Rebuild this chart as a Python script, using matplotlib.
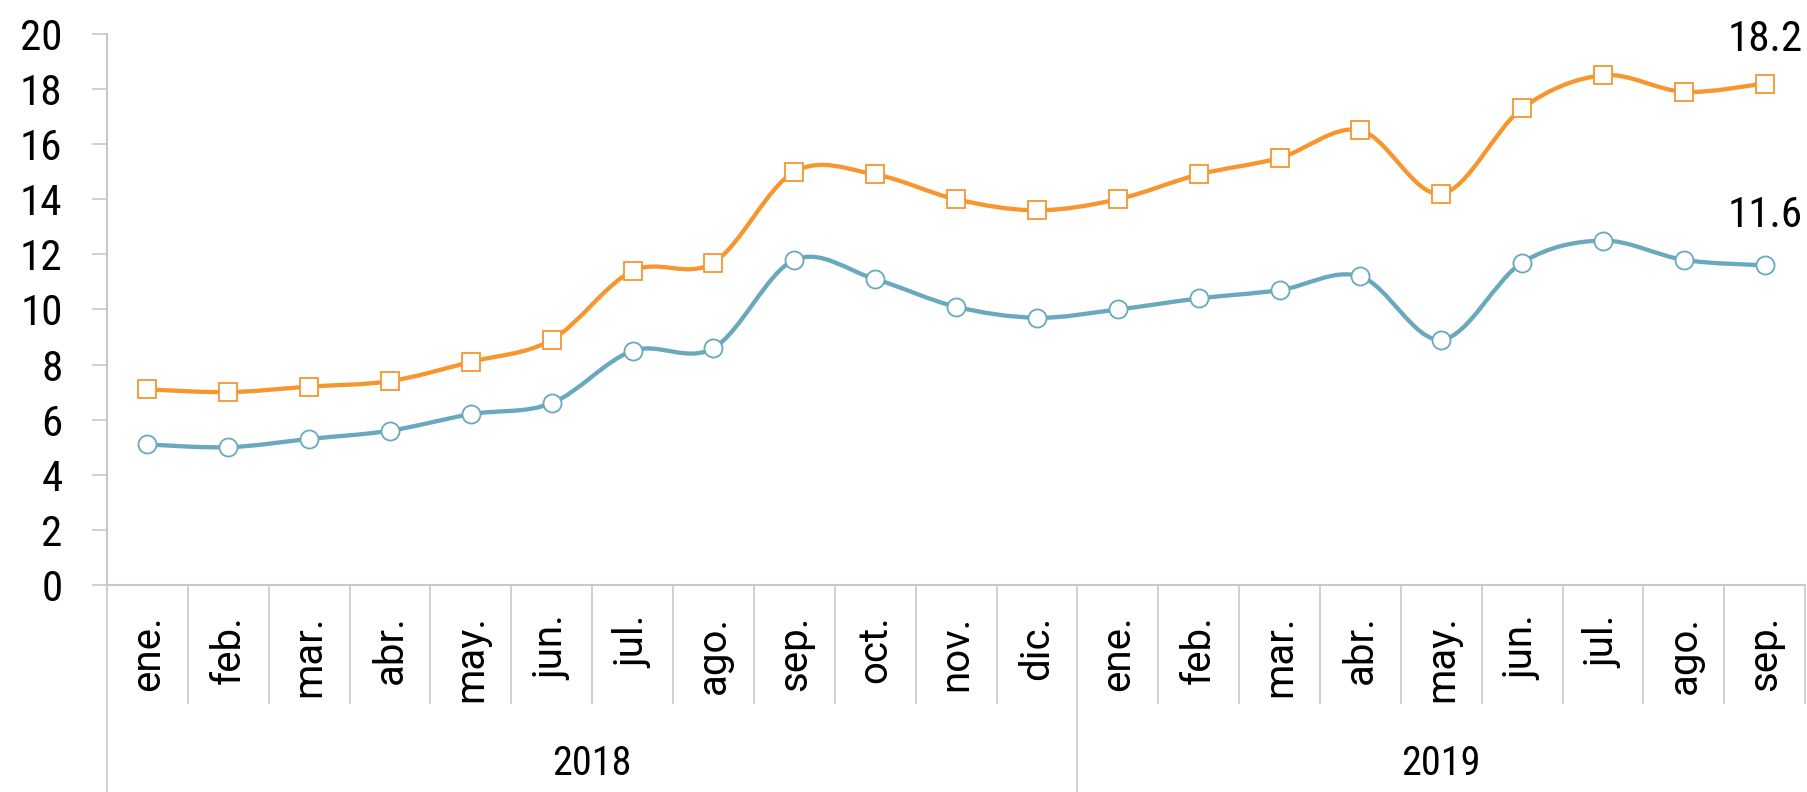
import matplotlib
matplotlib.use("Agg")
import matplotlib.pyplot as plt
import matplotlib.transforms as mtransforms
from matplotlib import font_manager
from matplotlib.path import Path
from matplotlib.patches import PathPatch

# Data
months = ["ene.", "feb.", "mar.", "abr.", "may.", "jun.", "jul.", "ago.", "sep.", "oct.", "nov.", "dic.",
          "ene.", "feb.", "mar.", "abr.", "may.", "jun.", "jul.", "ago.", "sep."]
years = ["2018", "2019"]
year_counts = [12, 9]

orange_vals = [7.1, 7.0, 7.2, 7.4, 8.1, 8.9, 11.4, 11.7, 15.0, 14.9, 14.0, 13.6,
               14.0, 14.9, 15.5, 16.5, 14.2, 17.3, 18.5, 17.9, 18.2]
blue_vals = [5.1, 5.0, 5.3, 5.6, 6.2, 6.6, 8.5, 8.6, 11.8, 11.1, 10.1, 9.7,
             10.0, 10.4, 10.7, 11.2, 8.9, 11.7, 12.5, 11.8, 11.6]

orange = "#F7962F"
blue = "#68A9BE"
grey = "#C8C8C8"

# narrow font for the numbers if there is one
installed = {f.name for f in font_manager.fontManager.ttflist}
num_font, num_scale = "Roboto", 0.85
for cand in ["Liberation Sans Narrow", "Roboto Condensed", "DejaVu Sans Condensed"]:
    if cand in installed:
        num_font, num_scale = cand, 1.0
        break
num_fam = [num_font, "DejaVu Sans"]
month_fam = ["Roboto", "DejaVu Sans"]


def smooth_path(xs, ys):
    # Excel-style smoothed line: cubic bezier segments through every point
    pts = list(zip(xs, ys))
    verts = [pts[0]]
    codes = [Path.MOVETO]
    n = len(pts)
    for i in range(n - 1):
        p0 = pts[max(i - 1, 0)]
        p1 = pts[i]
        p2 = pts[i + 1]
        p3 = pts[min(i + 2, n - 1)]
        c1 = (p1[0] + (p2[0] - p0[0]) / 6, p1[1] + (p2[1] - p0[1]) / 6)
        c2 = (p2[0] - (p3[0] - p1[0]) / 6, p2[1] - (p3[1] - p1[1]) / 6)
        verts += [c1, c2, p2]
        codes += [Path.CURVE4] * 3
    return Path(verts, codes)


fig = plt.figure(figsize=(18.07, 7.92), dpi=100)
ax = fig.add_axes([0.0592, 0.2614, 0.9398, 0.6957])

x = list(range(len(months)))
for vals, col, mk, ms in [(orange_vals, orange, "s", 13), (blue_vals, blue, "o", 13)]:
    ax.add_patch(PathPatch(smooth_path(x, vals), facecolor="none", edgecolor=col, lw=3.1, zorder=2))
    ax.plot(x, vals, linestyle="none", marker=mk, markersize=ms, markerfacecolor="white",
            markeredgecolor=col, markeredgewidth=1.3, zorder=3)

ax.annotate(f"{orange_vals[-1]:.1f}", (x[-1], orange_vals[-1]), xytext=(0, 32), textcoords="offset points",
            ha="center", va="center", fontsize=31 * num_scale, family=num_fam)
ax.annotate(f"{blue_vals[-1]:.1f}", (x[-1], blue_vals[-1]), xytext=(0, 36), textcoords="offset points",
            ha="center", va="center", fontsize=31 * num_scale, family=num_fam)

ax.set_xlim(-0.5, len(months) - 0.5)
ax.set_ylim(0, 20)
ax.set_yticks(range(0, 21, 2))
ax.tick_params(axis="y", length=11, width=1.2, color=grey, labelsize=31 * num_scale, pad=21)
for lbl in ax.get_yticklabels():
    lbl.set_family(num_fam)

ax.set_xticks(x)
ax.set_xticklabels(months, rotation=90, fontsize=29, family=month_fam)
ax.tick_params(axis="x", length=0, pad=22)

for side in ["top", "right"]:
    ax.spines[side].set_visible(False)
for side in ["left", "bottom"]:
    ax.spines[side].set_color(grey)
    ax.spines[side].set_linewidth(1.5)

# category separators below the axis
trans = mtransforms.blended_transform_factory(ax.transData, ax.transAxes)
starts = [-0.5]
for c in year_counts:
    starts.append(starts[-1] + c)
for i in range(len(months) + 1):
    xb = i - 0.5
    low = -0.40 if xb in starts[:-1] else -0.215
    ax.plot([xb, xb], [0, low], transform=trans, color=grey, lw=1.2, clip_on=False)

for yr, s, c in zip(years, starts, year_counts):
    ax.text(s + c / 2, -0.324, yr, transform=trans, ha="center", va="center",
            fontsize=29 * num_scale, family=num_fam)

fig.savefig("out.png", dpi=100)
